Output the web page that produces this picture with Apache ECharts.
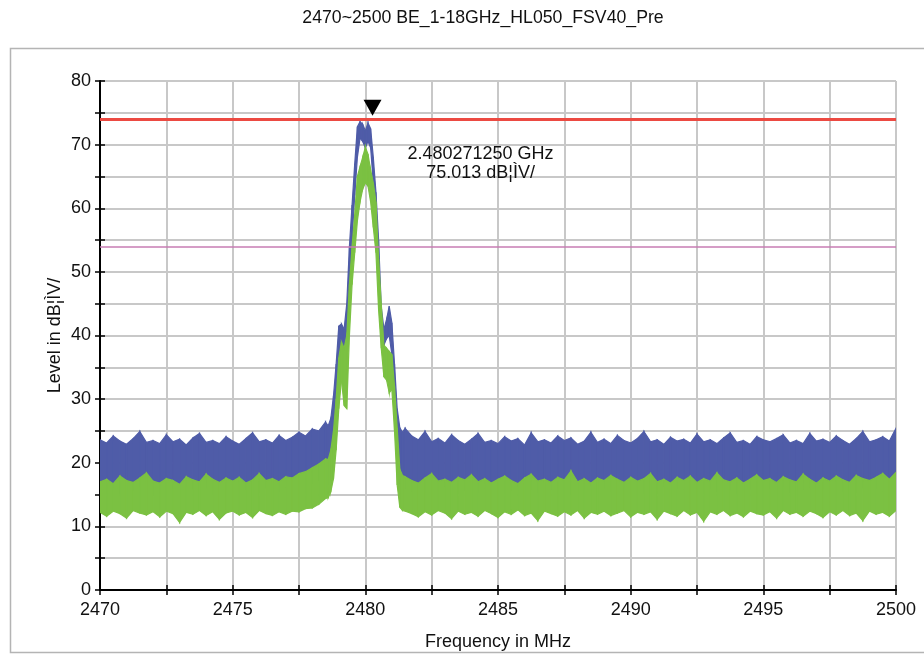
<!DOCTYPE html>
<html>
<head>
<meta charset="utf-8">
<script src="https://cdn.jsdelivr.net/npm/echarts@6/dist/echarts.min.js"></script>
<style>
  html, body { margin: 0; padding: 0; background: #fff; }
  #chartContainer { width: 924px; height: 656px; }
</style>
</head>
<body>
<div id="chartContainer"></div>
<script>
// frequency points (MHz): coarse in the noise floor, finer around the carrier
const freqMHz = [
  2470, 2470.25, 2470.5, 2470.75, 2471, 2471.25, 2471.5, 2471.75, 2472, 2472.25,
  2472.5, 2472.75, 2473, 2473.25, 2473.5, 2473.75, 2474, 2474.25, 2474.5, 2474.75,
  2475, 2475.25, 2475.5, 2475.75, 2476, 2476.25, 2476.5, 2476.75, 2477, 2477.25,
  2477.5, 2477.75, 2478, 2478.25, 2478.5,
  2478.6, 2478.7, 2478.8, 2478.9, 2479.0, 2479.1, 2479.2, 2479.3, 2479.4, 2479.5,
  2479.6, 2479.7, 2479.8, 2479.9, 2480.0, 2480.1, 2480.2, 2480.3, 2480.4, 2480.5,
  2480.6, 2480.7, 2480.8, 2480.9, 2481.0, 2481.1, 2481.2, 2481.3, 2481.4,
  2481.5, 2481.75, 2482, 2482.25, 2482.5, 2482.75, 2483, 2483.25, 2483.5, 2483.75,
  2484, 2484.25, 2484.5, 2484.75, 2485, 2485.25, 2485.5, 2485.75, 2486, 2486.25,
  2486.5, 2486.75, 2487, 2487.25, 2487.5, 2487.75, 2488, 2488.25, 2488.5, 2488.75,
  2489, 2489.25, 2489.5, 2489.75, 2490, 2490.25, 2490.5, 2490.75, 2491, 2491.25,
  2491.5, 2491.75, 2492, 2492.25, 2492.5, 2492.75, 2493, 2493.25, 2493.5, 2493.75,
  2494, 2494.25, 2494.5, 2494.75, 2495, 2495.25, 2495.5, 2495.75, 2496, 2496.25,
  2496.5, 2496.75, 2497, 2497.25, 2497.5, 2497.75, 2498, 2498.25, 2498.5, 2498.75,
  2499, 2499.25, 2499.5, 2499.75, 2500
];

// blue trace (peak detector) - upper and lower edge of the trace
const peakHi = [
  23.6, 23.1, 24.2, 23.4, 22.9, 23.8, 24.9, 23.2, 23.5, 23.0,
  24.4, 23.3, 23.7, 22.8, 23.9, 24.6, 23.2, 23.5, 23.0, 24.1,
  23.4, 22.9, 23.8, 24.7, 23.3, 23.6, 23.1, 24.3, 23.5, 24.0,
  24.8, 24.2, 25.3, 25.0, 26.4,
  25.8, 27.0, 30.5, 35.5, 41.5, 41.8, 41.0, 45.0, 54.0, 60.5,
  67.0, 72.8, 73.6, 73.2, 72.2, 73.4, 72.5, 68.0, 62.5, 55.0,
  44.5, 41.0, 42.5, 44.6, 42.0, 35.5, 28.5, 25.5, 24.8,
  25.4, 24.2, 23.6, 24.9, 23.3, 23.8, 23.1, 24.4, 23.5, 22.9,
  23.7, 24.6, 23.2, 23.5, 23.0, 24.1, 23.4, 23.8, 22.8, 24.7,
  23.3, 23.6, 23.1, 24.2, 23.5, 23.9, 22.9, 23.4, 24.8, 23.2,
  23.7, 23.0, 24.3, 23.5, 23.1, 23.8, 24.9, 23.3, 23.6, 22.9,
  24.0, 23.4, 23.7, 23.1, 24.5, 23.3, 23.6, 23.0, 23.9, 24.7,
  23.2, 23.5, 22.9, 24.1, 23.6, 23.3, 23.8, 24.4, 23.1, 23.5,
  23.0, 24.6, 23.4, 23.7, 23.2, 24.2, 23.5, 22.9, 23.8, 24.9,
  23.3, 23.6, 24.1, 23.4, 25.4
];
const peakLo = [
  16.0, 15.6, 16.3, 15.2, 16.1, 15.8, 16.4, 15.5, 14.9, 16.2,
  15.7, 16.0, 15.4, 16.3, 15.9, 15.6, 16.2, 15.1, 16.0, 15.8,
  16.4, 15.5, 15.9, 16.1, 15.3, 16.2, 15.8, 15.6, 16.3, 16.0,
  16.4, 16.6, 16.9, 17.3, 18.0,
  16.8, 17.5, 20.0, 30.0, 36.0, 38.5, 38.0, 40.0, 47.0, 55.0,
  62.0, 68.0, 71.0, 70.5, 69.5, 70.5, 69.5, 64.0, 57.0, 49.0,
  40.0, 38.5, 39.5, 40.0, 37.0, 29.0, 20.0, 16.8, 16.2,
  16.0, 15.6, 16.3, 15.4, 16.1, 15.8, 16.4, 15.2, 16.0, 15.7,
  16.3, 15.5, 16.1, 15.9, 15.3, 16.2, 15.8, 16.4, 15.6, 16.0,
  15.4, 16.3, 15.9, 15.7, 16.2, 15.1, 16.0, 15.8, 16.4, 15.6,
  16.1, 15.5, 15.9, 16.3, 15.7, 16.0, 15.3, 16.2, 15.8, 16.4,
  15.6, 16.1, 15.9, 15.4, 16.3, 15.7, 16.0, 15.5, 16.2, 15.8,
  15.2, 16.1, 15.9, 16.4, 15.6, 16.0, 15.7, 16.3, 15.4, 16.1,
  15.8, 16.2, 15.5, 16.0, 15.9, 16.4, 15.6, 16.1, 15.3, 16.2,
  15.8, 16.0, 15.6, 16.3, 15.9
];

// green trace (average detector)
const avgHi = [
  17.0, 17.4, 16.7, 17.9, 17.2, 16.9, 17.6, 18.4, 17.1, 16.8,
  17.5, 17.2, 16.6, 17.8, 17.3, 17.0, 18.2, 17.4, 16.9, 17.6,
  17.1, 17.7, 16.8, 17.3, 18.3, 17.2, 17.5, 17.0, 17.8, 17.6,
  18.3, 18.6, 19.2, 19.8, 20.6,
  20.5, 22.0, 25.0, 30.0, 36.5, 39.0, 38.0, 40.0, 48.0, 54.0,
  59.0, 65.0, 66.5, 68.0, 69.6, 68.5, 66.0, 64.0, 61.0, 52.0,
  45.0, 38.5, 38.0, 37.5, 37.0, 32.0, 25.5, 19.0, 18.0,
  17.8, 17.2, 16.8, 17.6, 18.3, 17.1, 17.4, 16.9, 17.7, 17.3,
  18.1, 17.0, 17.5, 16.8, 17.4, 17.9, 17.2, 16.7, 17.6, 18.2,
  17.1, 17.4, 16.9, 17.7, 17.3, 18.7, 17.0, 17.5, 16.8, 17.6,
  17.2, 18.0, 17.4, 16.9, 17.7, 17.1, 17.5, 18.3, 17.0, 17.4,
  16.8, 17.7, 17.2, 17.9, 16.9, 17.5, 17.1, 18.4, 17.3, 17.0,
  17.6, 16.8, 17.4, 18.1, 17.2, 17.5, 16.9, 17.8, 17.3, 17.0,
  18.2, 17.4, 16.8, 17.6, 17.1, 17.9, 17.3, 16.9, 18.0, 17.5,
  17.2, 17.7, 18.3, 17.4, 18.5
];
const avgLo = [
  12.2, 11.6, 12.4, 12.0, 11.3, 12.5, 12.1, 11.8, 12.3, 11.5,
  12.4, 12.0, 10.6, 12.2, 11.9, 12.5, 11.7, 12.3, 11.1, 12.1,
  12.4, 11.8, 12.2, 11.4, 12.5, 12.0, 11.7, 12.3, 11.9, 12.4,
  12.3, 12.8, 12.9, 13.5, 14.4,
  14.5, 15.5, 17.5, 22.0, 28.5, 33.0, 29.0, 28.5, 40.0, 48.0,
  53.0, 58.0, 61.0, 63.0, 64.0, 63.5, 61.0, 57.0, 53.0, 44.0,
  38.0, 33.5, 33.0, 31.0, 31.5, 25.0, 16.5, 13.0, 12.5,
  12.4, 12.0, 11.5, 12.3, 11.8, 12.5, 12.1, 11.2, 12.4, 11.9,
  12.2, 11.6, 12.5, 12.0, 11.4, 12.3, 11.9, 12.6, 11.7, 12.1,
  10.9, 12.4, 12.0, 11.6, 12.3, 11.8, 12.5, 11.3, 12.2, 11.9,
  12.4, 11.7, 12.1, 12.5, 11.5, 12.2, 11.9, 12.3, 11.1, 12.4,
  12.0, 11.6, 12.5, 11.8, 12.2, 10.8, 12.3, 11.9, 12.5, 11.7,
  12.1, 11.5, 12.4, 12.0, 11.8, 12.3, 11.3, 12.5, 11.9, 12.2,
  11.6, 12.4, 12.0, 11.4, 12.3, 11.8, 12.5, 11.7, 12.1, 10.9,
  12.4, 11.9, 12.2, 11.6, 12.5
];

const limitPeak = 74;
const limitAvg = 54;
const markerFreq = 2480.27125;
const markerLevel = 75.013;
const unitText = 'dB\u00a6\u00ccV/';

const FONT = '"Liberation Sans", Arial, sans-serif';
const BLUE = '#4f5ca8';
const GREEN = '#7bc142';
const GRID = '#c8c8c8';

// one quad per segment: [f0, f1, lo0, hi0, lo1, hi1]
function bandSeries(name, hi, lo, color) {
    const segs = [];
    for (let i = 0; i < freqMHz.length - 1; i++) {
        segs.push([freqMHz[i], freqMHz[i + 1], lo[i], hi[i], lo[i + 1], hi[i + 1]]);
    }
    return {
        name: name, type: 'custom', silent: true, clip: true,
        data: segs,
        encode: { x: [0, 1], y: [2, 3, 4, 5] },
        renderItem: function (params, api) {
            const f0 = api.value(0), f1 = api.value(1);
            const pts = [
                api.coord([f0, api.value(3)]),
                api.coord([f1, api.value(5)]),
                api.coord([f1, api.value(4)]),
                api.coord([f0, api.value(2)])
            ];
            return {
                type: 'polygon',
                shape: { points: pts },
                style: { fill: color, stroke: color, lineWidth: 1.2 }
            };
        }
    };
}

const myChart = echarts.init(document.getElementById('chartContainer'));

const axisText = { color: '#111', fontSize: 18, fontFamily: FONT };

const option = {
    animation: false,
    title: {
        text: '2470~2500 BE_1-18GHz_HL050_FSV40_Pre',
        left: 478, top: 4, textAlign: 'center',
        textStyle: { color: '#111', fontSize: 17.7, fontWeight: 'normal', fontFamily: FONT }
    },
    graphic: [{
        type: 'rect', silent: true, z: -10,
        shape: { x: 10.5, y: 48.5, width: 960, height: 604 },
        style: { fill: 'none', stroke: '#b4b4b4', lineWidth: 1.5 }
    }],
    grid: { left: 100, right: 28, top: 81, bottom: 65 },
    xAxis: [{
        type: 'value', min: 2470, max: 2500, interval: 2.5,
        name: 'Frequency in MHz', nameLocation: 'middle', nameGap: 43, nameMoveOverlap: false,
        nameTextStyle: axisText,
        axisLine: { show: true, onZero: false, lineStyle: { color: '#000', width: 2 } },
        axisTick: { show: true, length: 5, lineStyle: { color: '#000', width: 1.5 } },
        axisLabel: Object.assign({ margin: 11, formatter: v => (v % 5 === 0 ? String(v) : '') }, axisText),
        splitLine: { show: true, lineStyle: { color: GRID, width: 2 } }
    }, {
        type: 'value', min: 2470, max: 2500, interval: 2.5, position: 'bottom',
        axisLine: { show: false },
        axisTick: { show: true, inside: true, length: 5, lineStyle: { color: '#000', width: 1.5 } },
        axisLabel: { show: false },
        splitLine: { show: false }
    }],
    yAxis: [{
        type: 'value', min: 0, max: 80, interval: 5,
        name: 'Level in ' + unitText, nameLocation: 'middle', nameGap: 36, nameMoveOverlap: false,
        nameTextStyle: axisText,
        axisLine: { show: true, onZero: false, lineStyle: { color: '#000', width: 2 } },
        axisTick: { show: true, length: 5, lineStyle: { color: '#000', width: 1.5 } },
        axisLabel: Object.assign({ margin: 9, formatter: v => (v % 10 === 0 ? String(v) : '') }, axisText),
        splitLine: { show: true, lineStyle: { color: GRID, width: 2 } }
    }, {
        type: 'value', min: 0, max: 80, interval: 5, position: 'left',
        axisLine: { show: false },
        axisTick: { show: true, inside: true, length: 5, lineStyle: { color: '#000', width: 1.5 } },
        axisLabel: { show: false },
        splitLine: { show: false }
    }],
    series: [
        bandSeries('peak', peakHi, peakLo, BLUE),
        bandSeries('avg', avgHi, avgLo, GREEN),
        {
            name: 'limits', type: 'line', data: [], silent: true,
            markLine: {
                silent: true, symbol: 'none', animation: false,
                label: { show: false },
                data: [
                    { yAxis: limitPeak, lineStyle: { color: '#ec4a42', width: 3, type: 'solid' } },
                    { yAxis: limitAvg, lineStyle: { color: '#c77cb3', width: 1.5, type: 'solid' } }
                ]
            },
            markPoint: {
                silent: true, animation: false,
                data: [{
                    coord: [markerFreq, markerLevel],
                    symbol: 'triangle', symbolRotate: 180,
                    symbolSize: [18, 16], symbolOffset: [0, -5],
                    itemStyle: { color: '#000' },
                    label: {
                        show: true, position: 'inside', offset: [108, 56],
                        formatter: '2.480271250 GHz\n' + markerLevel.toFixed(3) + ' ' + unitText,
                        color: '#111', fontSize: 18, fontFamily: FONT, lineHeight: 19,
                        align: 'center'
                    }
                }]
            }
        }
    ]
};

myChart.setOption(option);
</script>
</body>
</html>
